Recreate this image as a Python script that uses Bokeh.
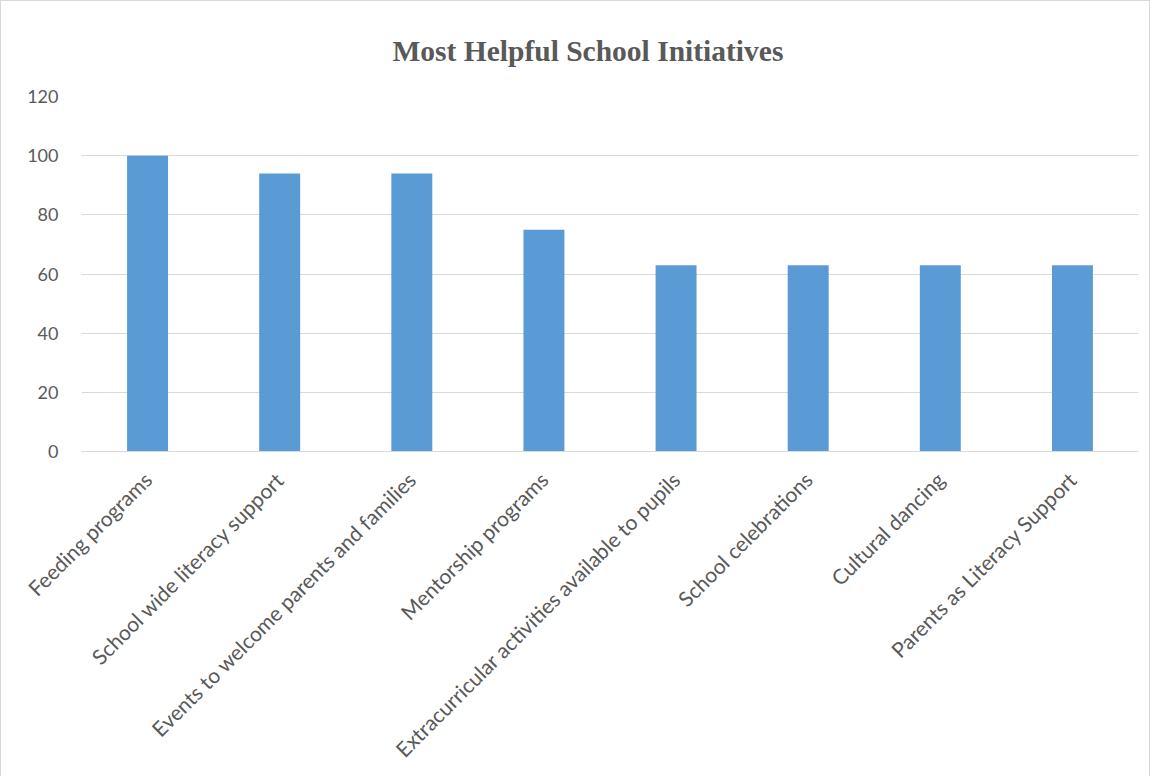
from bokeh.plotting import figure
from bokeh.models import ColumnDataSource, Range1d, FixedTicker
from bokeh.embed import file_html
from bokeh.resources import INLINE
import math

categories = [
    "Feeding programs",
    "School wide literacy support",
    "Events to welcome parents and families",
    "Mentorship programs",
    "Extracurricular activities available to pupils",
    "School celebrations",
    "Cultural dancing",
    "Parents as Literacy Support",
]
values = [100, 94, 94, 75, 63, 63, 63, 63]
y_ticks = [0, 20, 40, 60, 80, 100, 120]

source = ColumnDataSource(data=dict(cat=categories, val=values))

p = figure(
    x_range=categories,
    y_range=Range1d(0, 120),
    width=1150,
    height=776,
    output_backend="svg",
    toolbar_location=None,
    title="Most Helpful School Initiatives",
    min_border_left=80,
    min_border_right=13,
    min_border_top=95,
    min_border_bottom=326,
)
p.styles = {"border-top": "1px solid #D9D9D9", "border-left": "1px solid #D9D9D9",
            "border-right": "1px solid #D9D9D9"}

p.vbar(x="cat", top="val", width=0.31, source=source,
       fill_color="#5B9BD5", line_color=None)

p.title.text_font = "Liberation Serif"
p.title.text_font_size = "29.5px"
p.title.text_font_style = "bold"
p.title.text_color = "#595959"
p.title.align = "left"
p.title.offset = 311
p.title.standoff = 59

p.outline_line_color = None
p.background_fill_color = "white"
p.border_fill_color = "white"

p.xgrid.grid_line_color = None
p.ygrid.grid_line_color = "#D9D9D9"
p.ygrid.grid_line_width = 1

p.yaxis.ticker = FixedTicker(ticks=y_ticks)
p.yaxis.axis_line_color = None
p.yaxis.major_tick_line_color = None
p.yaxis.minor_tick_line_color = None
p.yaxis.major_label_text_font = "Lato"
p.yaxis.major_label_text_font_size = "18px"
p.yaxis.major_label_text_color = "#595959"
p.yaxis.major_label_standoff = 17

p.xaxis.axis_line_color = "#D9D9D9"
p.xaxis.major_tick_line_color = None
p.xaxis.minor_tick_line_color = None
p.xaxis.major_label_orientation = math.pi / 4
p.xaxis.major_label_text_font = "Lato"
p.xaxis.major_label_text_font_size = "21px"
p.xaxis.major_label_text_color = "#595959"
p.xaxis.major_label_standoff = 18

open("out.html", "w").write(file_html(p, INLINE))
